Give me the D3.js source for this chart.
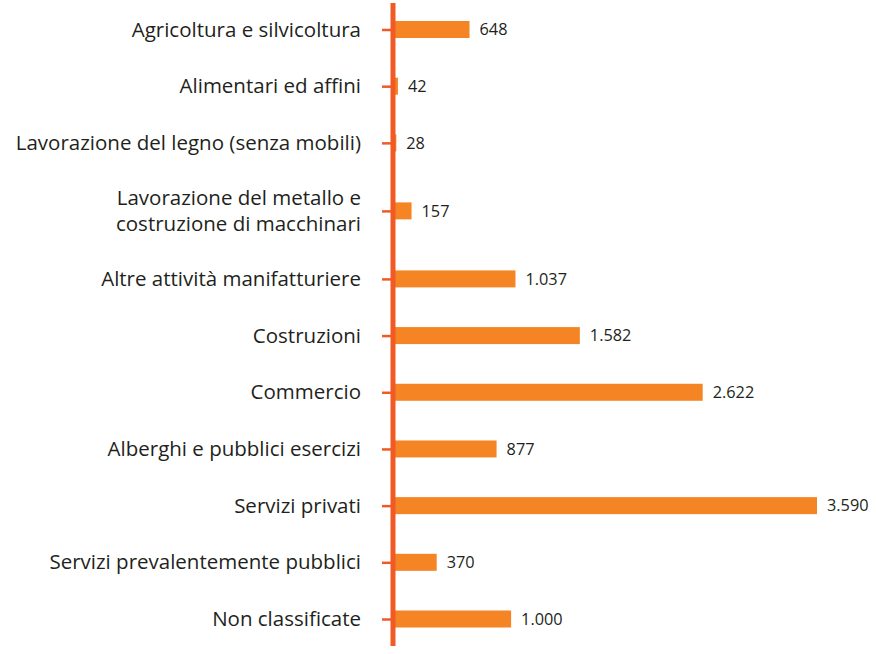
<!DOCTYPE html>
<html><head><meta charset="utf-8">
<script src="https://cdn.jsdelivr.net/npm/d3@7"></script>
<style>html,body{margin:0;padding:0;background:#fff}</style>
</head><body>
<svg id="chart" width="876" height="654"></svg>
<script>
const categories = [
  "Agricoltura e silvicoltura",
  "Alimentari ed affini",
  "Lavorazione del legno (senza mobili)",
  "Lavorazione del metallo e\ncostruzione di macchinari",
  "Altre attività manifatturiere",
  "Costruzioni",
  "Commercio",
  "Alberghi e pubblici esercizi",
  "Servizi privati",
  "Servizi prevalentemente pubblici",
  "Non classificate"
];
const values = [648, 42, 28, 157, 1037, 1582, 2622, 877, 3590, 370, 1000];

const svg = d3.select("#chart");
const fmt = d3.formatLocale({decimal: ",", thousands: ".", grouping: [3], currency: ["", "€"]}).format(",d");

// vertical layout: multi-line labels take extra room
const lines = categories.map(c => c.split("\n").length);
let acc = 0; const units = [0];
for (let i = 1; i < categories.length; i++) {
  acc += 1 + 0.2 * ((lines[i-1]-1) + (lines[i]-1));
  units.push(acc);
}
const u = d3.scaleLinear().domain([0, acc]).range([29.5, 619]);
const y = d3.scaleOrdinal().domain(categories).range(units.map(v => u(v)));

const x = d3.scaleLinear().domain([0, 3590]).range([393, 817]);
const barH = 17;
const barColor = "#F58524", axisColor = "#F15A24";

svg.append("g").selectAll("rect").data(values).join("rect")
  .attr("x", x(0)).attr("y", (d,i) => y(categories[i]) - barH/2)
  .attr("width", d => x(d) - x(0)).attr("height", barH)
  .attr("fill", barColor);

svg.append("g").selectAll("text").data(values).join("text")
  .attr("x", d => x(d) + 10).attr("y", (d,i) => y(categories[i]))
  .attr("dy", "0.35em")
  .attr("font-family", "'Open Sans', sans-serif").attr("font-size", 16.3)
  .attr("fill", "#231F20").text(d => fmt(d));

// axis with ticks
const ax = svg.append("g").attr("transform", "translate(393,0)")
  .call(d3.axisLeft(y).tickSize(11).tickFormat(""));
ax.select(".domain").remove();
ax.selectAll(".tick line").attr("stroke", axisColor).attr("stroke-width", 2.5);
svg.append("line").attr("x1", 393).attr("x2", 393).attr("y1", 3).attr("y2", 646)
  .attr("stroke", axisColor).attr("stroke-width", 5);

// category labels
const lab = svg.append("g").selectAll("text").data(categories).join("text")
  .attr("x", 361).attr("text-anchor", "end")
  .attr("font-family", "'Open Sans', sans-serif").attr("font-size", 20.5)
  .attr("fill", "#231F20");
lab.each(function(c) {
  const ls = c.split("\n"); const t = d3.select(this); const lh = 26;
  const y0 = y(c) - (ls.length-1) * lh / 2;
  ls.forEach((l, j) => t.append("tspan").attr("x", 361).attr("y", y0 + j*lh).attr("dy", "0.35em").text(l));
});
</script>
</body></html>
